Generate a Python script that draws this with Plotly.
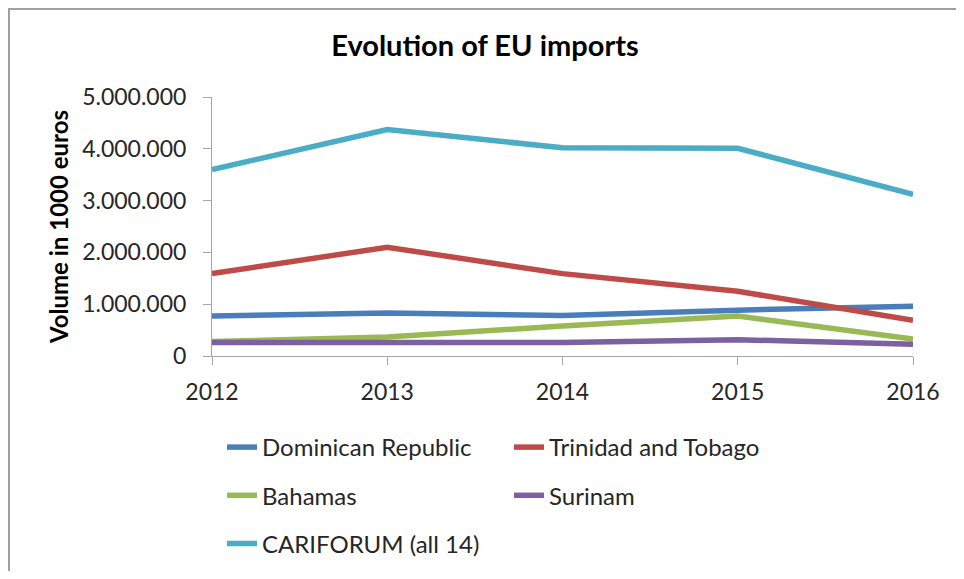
import plotly.graph_objects as go

years = ["2012", "2013", "2014", "2015", "2016"]
dominican = [770000, 830000, 780000, 885000, 960000]
trinidad = [1590000, 2100000, 1590000, 1250000, 690000]
bahamas = [280000, 365000, 580000, 770000, 330000]
surinam = [260000, 250000, 260000, 315000, 225000]
cariforum = [3600000, 4370000, 4020000, 4010000, 3120000]

y_ticks = [0, 1000000, 2000000, 3000000, 4000000, 5000000]
y_ticktext = ["0", "1.000.000", "2.000.000", "3.000.000", "4.000.000", "5.000.000"]

series = [
    ("Dominican Republic", dominican, "#4A7EBB", "legend"),
    ("Trinidad and Tobago", trinidad, "#BE4B48", "legend2"),
    ("Bahamas", bahamas, "#98B954", "legend"),
    ("Surinam", surinam, "#7D60A0", "legend2"),
    ("CARIFORUM (all 14)", cariforum, "#4BACC6", "legend"),
]

FONT = "Lato"
fig = go.Figure()
for i, (name, vals, col, lg) in enumerate(series):
    fig.add_trace(go.Scatter(
        x=years, y=vals, name=name, mode="lines",
        line=dict(color=col, width=5.5),
        legend=lg, legendgroup=f"g{i}",
    ))

# page is offset by the 8px body margin
OFF = 8
W, H = 964 - OFF - 8, 579 - OFF - 8
L = 212 - OFF
T = 97 - OFF
R = W - (913 - OFF)
B = H - (356 - OFF)
pw = W - L - R
ph = H - T - B

def px_x(p):
    return (p - OFF - L) / pw

def px_y(p):
    return 1 - (p - OFF - T) / ph

legend_common = dict(
    orientation="v", yanchor="top", xanchor="left",
    font=dict(family=FONT, size=24, color="#262626"),
    tracegroupgap=14, bgcolor="rgba(0,0,0,0)",
    itemwidth=30,
)

fig.update_layout(
    width=W, height=H,
    margin=dict(l=L, r=R, t=T, b=B, autoexpand=False),
    paper_bgcolor="white", plot_bgcolor="white",
    title=dict(text="<b>Evolution of EU imports</b>", x=(485 - OFF) / W, xanchor="center",
               y=1 - (46 - OFF) / H, yanchor="middle",
               font=dict(family=FONT, size=29, color="#000000")),
    xaxis=dict(type="category", range=[0, 4], showgrid=False, zeroline=False,
               showline=True, linecolor="#A6A6A6", linewidth=1,
               ticks="outside", ticklen=8, tickcolor="#A6A6A6",
               ticklabelstandoff=7,
               tickfont=dict(family=FONT, size=23, color="#262626")),
    yaxis=dict(range=[0, 5000000], tickvals=y_ticks, ticktext=y_ticktext,
               showgrid=False, zeroline=False,
               showline=True, linecolor="#A6A6A6", linewidth=1,
               ticks="outside", ticklen=8, tickcolor="#A6A6A6",
               ticklabelstandoff=12,
               tickfont=dict(family=FONT, size=23, color="#262626"),
               title=dict(text="<b>Volume in 1000 euros</b>", standoff=6,
                          font=dict(family=FONT, size=24, color="#000000"))),
    legend=dict(x=px_x(222), y=px_y(425), **legend_common),
    legend2=dict(x=px_x(509), y=px_y(425), **legend_common),
    showlegend=True,
    shapes=[dict(type="rect", xref="paper", yref="paper",
                 x0=px_x(OFF + 1), x1=px_x(1100), y0=px_y(700), y1=px_y(OFF + 1),
                 line=dict(color="#A0A0A0", width=2), fillcolor="rgba(0,0,0,0)",
                 layer="below")],
)

fig.write_html("out.html")
